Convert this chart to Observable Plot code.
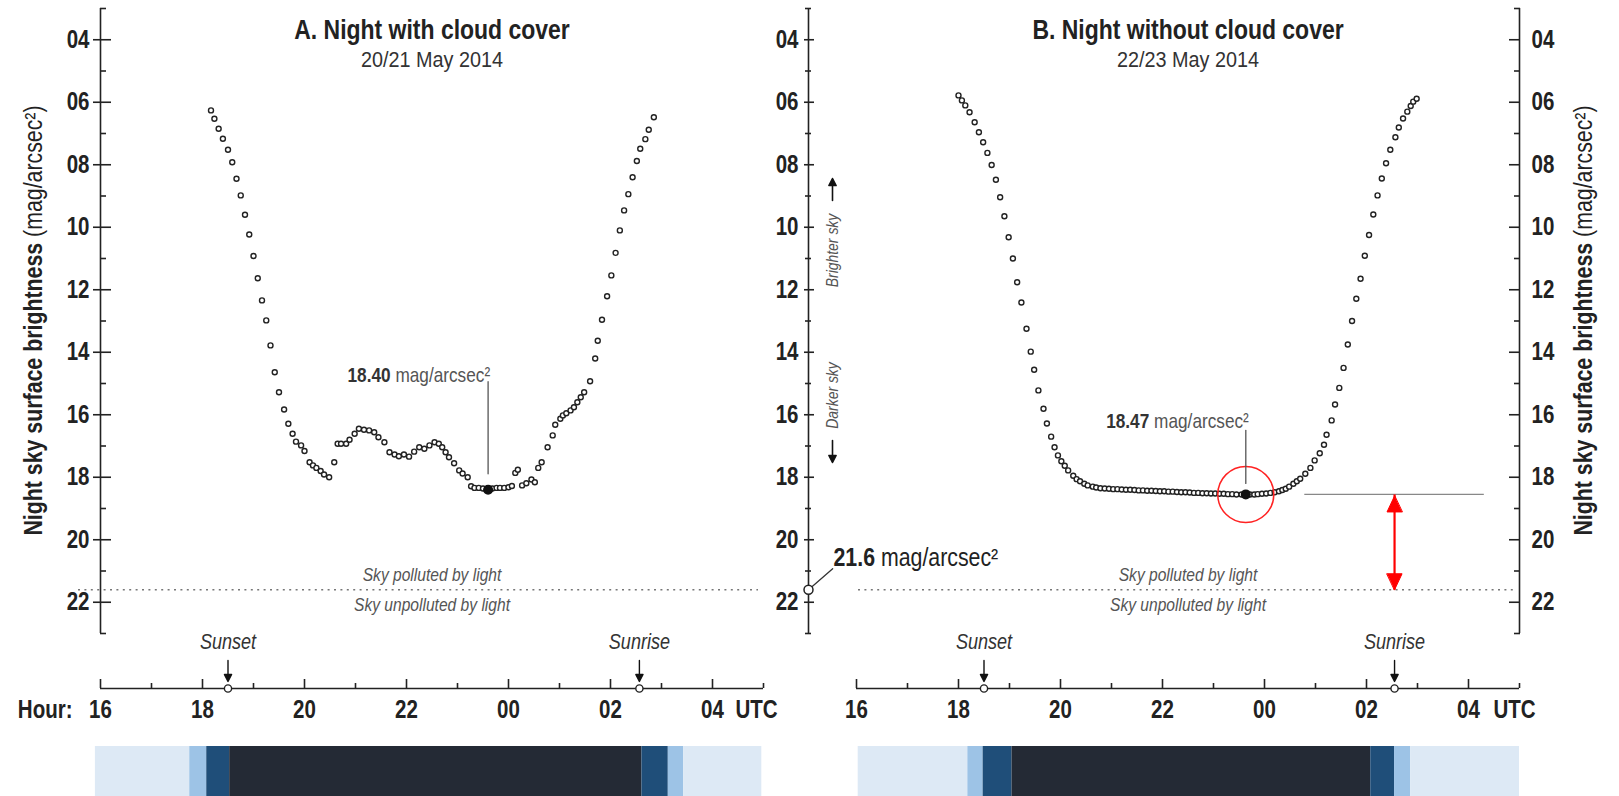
<!DOCTYPE html>
<html>
<head>
<meta charset="utf-8">
<script src="https://cdn.jsdelivr.net/npm/d3@7"></script>
<script src="https://cdn.jsdelivr.net/npm/@observablehq/plot@0.6"></script>
<style>
  html, body { margin: 0; padding: 0; background: #fff; }
  #chart { position: relative; width: 1619px; height: 796px; overflow: hidden; }
  #chart > svg { position: absolute; left: 0; }
</style>
</head>
<body>
<div id="chart"></div>
<script>
// ================= DATA =================
// Panel A: night with cloud cover (20/21 May 2014)
const timesA = ["18:10","18:14","18:19","18:24","18:30","18:35","18:40","18:45","18:50","18:55",
  "19:00","19:05","19:10","19:15","19:20","19:25","19:30","19:36","19:41","19:46",
  "19:50","19:56","20:00","20:06","20:10","20:14","20:19","20:23","20:29","20:35",
  "20:39","20:43","20:49","20:53","20:59","21:04","21:10","21:16","21:22","21:27",
  "21:34","21:40","21:46","21:51","21:57","22:03","22:09","22:15","22:21","22:27",
  "22:33","22:38","22:42","22:46","22:50","22:56","23:02","23:06","23:12","23:16",
  "23:20","23:25","23:30","23:36","23:41","23:46","23:50","23:55","00:00","00:04",
  "00:08","00:11","00:16","00:21","00:27","00:31","00:35","00:39","00:46","00:52",
  "00:55","01:01","01:04","01:08","01:13","01:17","01:21","01:25","01:29","01:36",
  "01:42","01:45","01:50","01:56","02:01","02:06","02:11","02:16","02:21","02:26",
  "02:31","02:35","02:41","02:45","02:51"];
const valuesA = [6.26,6.53,6.85,7.17,7.52,7.92,8.45,8.98,9.60,10.23,
  10.92,11.63,12.34,12.98,13.78,14.64,15.28,15.83,16.29,16.61,
  16.86,16.98,17.16,17.52,17.62,17.70,17.80,17.91,18.00,17.52,
  16.93,16.93,16.93,16.80,16.61,16.45,16.48,16.50,16.56,16.72,
  16.88,17.20,17.27,17.33,17.27,17.34,17.18,17.04,17.09,16.98,
  16.88,16.93,17.04,17.20,17.36,17.55,17.78,17.88,18.00,18.29,
  18.34,18.34,18.36,18.40,18.36,18.34,18.34,18.34,18.32,18.28,
  17.86,17.76,18.26,18.19,18.07,18.16,17.70,17.52,17.04,16.66,
  16.32,16.13,16.02,15.95,15.86,15.76,15.60,15.44,15.28,14.93,
  14.20,13.63,12.96,12.21,11.54,10.82,10.10,9.46,8.94,8.40,
  7.88,7.49,7.18,6.88,6.48];

// Panel B: night without cloud cover (22/23 May 2014)
const timesB = ["18:00","18:04","18:08","18:13","18:19","18:24","18:29","18:34","18:39","18:44",
  "18:49","18:54","18:59","19:04","19:09","19:14","19:20","19:25","19:29","19:34",
  "19:40","19:44","19:49","19:53","19:57","20:01","20:05","20:09","20:15","20:19",
  "20:23","20:28","20:32","20:38","20:42","20:47","20:52","20:57","21:02","21:07",
  "21:12","21:17","21:22","21:27","21:32","21:37","21:42","21:47","21:52","21:57",
  "22:02","22:07","22:12","22:17","22:22","22:27","22:32","22:37","22:42","22:47",
  "22:52","22:57","23:02","23:07","23:12","23:17","23:22","23:27","23:33","23:38",
  "23:43","23:48","23:52","23:57","00:02","00:07","00:12","00:17","00:21","00:25",
  "00:29","00:34","00:38","00:42","00:48","00:54","00:59","01:05","01:10","01:13",
  "01:19","01:23","01:28","01:33","01:38","01:43","01:48","01:53","01:58","02:03",
  "02:08","02:13","02:18","02:23","02:28","02:34","02:38","02:43","02:48","02:52",
  "02:55","02:59"];
const valuesB = [5.78,5.94,6.10,6.32,6.64,6.96,7.28,7.62,8.01,8.48,
  9.04,9.65,10.32,11.00,11.76,12.41,13.25,13.98,14.56,15.22,
  15.81,16.28,16.70,17.04,17.30,17.49,17.63,17.78,17.95,18.06,
  18.13,18.21,18.26,18.30,18.33,18.35,18.36,18.37,18.38,18.38,
  18.39,18.40,18.40,18.41,18.42,18.42,18.43,18.43,18.44,18.45,
  18.45,18.46,18.46,18.47,18.48,18.48,18.49,18.50,18.50,18.51,
  18.51,18.52,18.52,18.53,18.53,18.54,18.54,18.55,18.55,18.55,
  18.55,18.55,18.54,18.53,18.52,18.50,18.48,18.45,18.41,18.37,
  18.30,18.21,18.13,18.05,17.89,17.70,17.46,17.23,16.96,16.64,
  16.18,15.67,15.14,14.50,13.75,13.00,12.29,11.65,10.91,10.25,
  9.59,8.98,8.44,7.95,7.52,7.12,6.81,6.52,6.30,6.12,
  5.98,5.89];

const sunNames = ["Sunset", "Sunrise"];
const sunTimesA = ["18:30", "02:34"];
const sunTimesB = ["18:30", "02:33"];

const bandLevels = ["light", "dusk", "dark", "night", "dark", "dusk", "light"];
const bandEdgesA = ["15:54", "17:45", "18:05", "18:32", "02:37", "03:08", "03:26", "04:58"];
const bandEdgesB = ["16:02", "18:11", "18:29", "19:03", "02:05", "02:33", "02:52", "05:00"];
const bandColorDomain = ["light", "dusk", "dark", "night"];
const bandColors = ["#dde9f5", "#9dc3e6", "#1f4e79", "#242a35"];

const xTickHours = [16, 18, 20, 22, 24, 26, 28];
const xTickLabels = ["16", "18", "20", "22", "00", "02", "04"];
const xMinorHours = [17, 19, 21, 23, 25, 27, 29];
const yTicks = [4, 6, 8, 10, 12, 14, 16, 18, 20, 22];
const yTickLabels = ["04", "06", "08", "10", "12", "14", "16", "18", "20", "22"];
const yMinorTicks = [3, 5, 7, 9, 11, 13, 15, 17, 19, 21, 23];

const pollutionLimit = 21.6;
const pollutionLimitLabel = "21.6";
const keyTimeA = "23:36", keyLabelA = "18.40";
const keyTimeB = "23:38", keyLabelB = "18.47";

const titleA = "A. Night with cloud cover", subtitleA = "20/21 May 2014";
const titleB = "B. Night without cloud cover", subtitleB = "22/23 May 2014";
const yTitleBold = "Night sky surface brightness", yTitleUnit = "(mag/arcsec²)";
const unitLabel = "mag/arcsec²";
const skyPolluted = "Sky polluted by light", skyUnpolluted = "Sky unpolluted by light";
const brighterLabel = "Brighter sky", darkerLabel = "Darker sky";
const hourLabel = "Hour:", utcLabel = "UTC";

// ================= FONTS =================
function hasFont(name) {
  const ctx = document.createElement("canvas").getContext("2d");
  const s = "Night sky 0123456789 mag/arcsec WMmil";
  for (const base of ["monospace", "serif"]) {
    ctx.font = `40px ${base}`; const a = ctx.measureText(s).width;
    ctx.font = `40px "${name}", ${base}`; const b = ctx.measureText(s).width;
    if (Math.abs(a - b) > 0.5) return true;
  }
  return false;
}
let FONT = ["Liberation Sans Narrow", "Arial Narrow", "Nimbus Sans Narrow"].find(hasFont);
let condense = 1;
if (!FONT) { FONT = "Liberation Sans"; condense = 0.82; }
const FF = `"${FONT}", "Liberation Sans", Arial, sans-serif`;
const condenseOverride = new Map([[subtitleA, 0.9], [subtitleB, 0.9]]);
const measureCtx = document.createElement("canvas").getContext("2d");
function textWidth(s, size, weight) {
  measureCtx.font = `${weight} ${size}px ${FF}`;
  return measureCtx.measureText(s).width * condense;
}

// ================= HELPERS =================
const parseT = s => { const [h, m] = s.split(":").map(Number); let v = h + m / 60; if (v < 12) v += 24; return v; };
const series = (times, values) => times.map((t, i) => ({h: parseT(t), v: values[i]}));
const fmtX = d => xTickLabels[xTickHours.indexOf(d)];
const fmtY = d => yTickLabels[yTicks.indexOf(d)];
const sunOf = times => sunNames.map((n, i) => ({name: n, h: parseT(times[i])}));
const bandsOf = edges => bandLevels.map((lev, i) => ({level: lev, x1: parseT(edges[i]), x2: parseT(edges[i + 1])}));

const dataA = series(timesA, valuesA), dataB = series(timesB, valuesB);
const keyA = dataA.find(d => d.h === parseT(keyTimeA));
const keyB = dataB.find(d => d.h === parseT(keyTimeB));
const sunA = sunOf(sunTimesA), sunB = sunOf(sunTimesB);

const W = 1619, H = 746, BAR_H = 50;
const xDomain = [16, 29], yDomain = [3, 23], yRange = [8, 633];
const marginTop = 8, marginBottom = 58;
const xAxisOffset = (H - marginBottom) - yRange[1];
const AX = "#222";
const yTitle = `${yTitleBold} ${yTitleUnit}`;

const lineShape = {draw(ctx, l) { ctx.moveTo(0, 0); ctx.lineTo(0, -l); }};
const arrowShape = {draw(ctx, l) { const h = 7, w = 3.6; ctx.moveTo(0, 0); ctx.lineTo(0, -l + h); ctx.moveTo(-w, -l + h); ctx.lineTo(0, -l); ctx.lineTo(w, -l + h); ctx.closePath(); }};
const headShape = {draw(ctx, l) { const w = l * 0.47; ctx.moveTo(0, -l); ctx.lineTo(-w, 0); ctx.lineTo(w, 0); ctx.closePath(); }};

function pollutionMarks(insetLeft, insetRight) {
  return [
    Plot.ruleY([pollutionLimit], {y: d => d, stroke: "#777", strokeWidth: 1.6, strokeDasharray: "2,4.4", insetLeft, insetRight}),
    Plot.text([pollutionLimit], {y: d => d, text: () => skyPolluted, lineAnchor: "bottom", dy: -9, fontStyle: "italic", fontSize: 19, fill: "#555"}),
    Plot.text([pollutionLimit], {y: d => d, text: () => skyUnpolluted, lineAnchor: "top", dy: 8, fontStyle: "italic", fontSize: 19, fill: "#555"})
  ];
}
function xAxisMarks(utcDx, withHour) {
  return [
    Plot.ruleY([yDomain[1]], {y: d => d, x1: () => xDomain[0], x2: () => xDomain[1], dy: xAxisOffset, stroke: AX, strokeWidth: 1.6}),
    Plot.axisX(xTickHours, {anchor: "bottom", tickSize: 9, dy: -9, tickPadding: 12, tickFormat: fmtX, fontSize: 25, fontWeight: "bold", stroke: AX, strokeWidth: 1.6, label: null}),
    Plot.axisX(xMinorHours, {anchor: "bottom", tickSize: 5, dy: -5, fill: "none", stroke: AX, strokeWidth: 1.6, label: null}),
    Plot.text([utcLabel], {text: d => d, frameAnchor: "bottom-right", dx: utcDx, dy: 12, textAnchor: "start", lineAnchor: "top", fontSize: 25, fontWeight: "bold"}),
    withHour ? Plot.text([hourLabel], {text: d => d, frameAnchor: "bottom-left", dx: -28, dy: 12, textAnchor: "end", lineAnchor: "top", fontSize: 25, fontWeight: "bold"}) : null
  ];
}
function yAxisMarks(anchor, lineX, lineDx, major, minor) {
  return [
    Plot.ruleX([lineX], {x: d => d, y1: () => yDomain[0], y2: () => yDomain[1], dx: lineDx, stroke: AX, strokeWidth: 1.6}),
    Plot.axisY(yTicks, {anchor, tickFormat: fmtY, fontSize: 25, fontWeight: "bold", stroke: AX, strokeWidth: 1.6, label: null, ...major}),
    Plot.axisY(yMinorTicks, {anchor, fill: "none", stroke: AX, strokeWidth: 1.6, label: null, ...minor})
  ];
}
function sunMarks(sun) {
  return [
    Plot.vector(sun, {x: "h", frameAnchor: "bottom", dy: -7, length: 21, rotate: 180, anchor: "end", shape: arrowShape, stroke: "#111", fill: "#111", strokeWidth: 1.4}),
    Plot.dot(sun, {x: "h", frameAnchor: "bottom", r: 3.6, fill: "white", stroke: AX, strokeWidth: 1.4}),
    Plot.text(sun, {x: "h", text: "name", frameAnchor: "bottom", dy: -40, lineAnchor: "bottom", fontStyle: "italic", fontSize: 22, fill: "#333"})
  ];
}
function titleMarks(title, sub) {
  return [
    Plot.text([title], {text: d => d, frameAnchor: "top", dy: 30, lineAnchor: "bottom", fontSize: 28, fontWeight: "bold", fill: "#222"}),
    Plot.text([sub], {text: d => d, frameAnchor: "top", dy: 58, lineAnchor: "bottom", fontSize: 22, fill: "#333"})
  ];
}
function yTitleMark(frameAnchor, dx) {
  return Plot.text([yTitle], {text: d => d, frameAnchor, textAnchor: "middle", dx, dy: -28, rotate: -90, fontSize: 26, fill: "#222"});
}
const dotStyle = {x: "h", y: "v", r: 2.5, stroke: "#222", strokeWidth: 1.4, fill: "white"};
// value label: bold number + unit, right-aligned at the leader line
function keyMarks(key, label, gap, length, labelDx, labelDy) {
  const size = 21;
  const unitW = textWidth(` ${unitLabel}`, size, "normal");
  const common = {x: "h", y: "v", textAnchor: "end", lineAnchor: "bottom", dy: labelDy, fontSize: size};
  return [
    Plot.vector([key], {x: "h", y: "v", anchor: "start", dy: -gap, length, shape: lineShape, stroke: "#555", strokeWidth: 1.3}),
    Plot.dot([key], {x: "h", y: "v", r: 4.3, fill: "#111", stroke: "#111"}),
    Plot.text([key], {...common, text: () => unitLabel, dx: labelDx, fill: "#555"}),
    Plot.text([key], {...common, text: () => label, dx: labelDx - unitW, fontWeight: "bold", fill: "#333"})
  ];
}
const baseStyle = {fontFamily: FF, color: AX, background: "transparent", overflow: "visible"};

// ================= PANEL A =================
const plotA = Plot.plot({
  width: W, height: H, marginTop, marginBottom, marginLeft: 100, marginRight: 856,
  x: {domain: xDomain}, y: {domain: yDomain, range: yRange},
  style: baseStyle,
  marks: [
    ...pollutionMarks(-22, 5),
    ...xAxisMarks(-28, true),
    ...yAxisMarks("left", xDomain[0], 0, {tickSize: 18, dx: 11, tickPadding: 4}, {tickSize: 6, dx: 6}),
    ...sunMarks(sunA),
    ...titleMarks(titleA, subtitleA),
    yTitleMark("left", -67),
    Plot.dot(dataA, dotStyle),
    ...keyMarks(keyA, keyLabelA, 16, 92, 2, -108)
  ]
});

// ================= PANEL B =================
const leftAxisDx = -48;
const arrowH = sunB[1].h;
const limSize = 26;
const limNumW = textWidth(`${pollutionLimitLabel} `, limSize, "bold");
const plotB = Plot.plot({
  width: W, height: H, marginTop, marginBottom, marginLeft: 856, marginRight: 100,
  x: {domain: xDomain}, y: {domain: yDomain, range: yRange},
  style: baseStyle,
  marks: [
    ...pollutionMarks(2, 2),
    ...xAxisMarks(-26, false),
    ...yAxisMarks("left", xDomain[0], leftAxisDx, {tickSize: 10, dx: leftAxisDx + 6, tickPadding: 6}, {tickSize: 6, dx: leftAxisDx + 3}),
    ...yAxisMarks("right", xDomain[1], 0, {tickSize: 11, dx: -11, tickPadding: 12}, {tickSize: 6, dx: -6}),
    ...sunMarks(sunB),
    ...titleMarks(titleB, subtitleB),
    yTitleMark("right", 64),
    // brighter / darker sky hints
    Plot.text([brighterLabel], {text: d => d, frameAnchor: "left", textAnchor: "middle", dx: -24, dy: -98, rotate: -90, fontStyle: "italic", fontSize: 17, fill: "#555"}),
    Plot.vector([brighterLabel], {frameAnchor: "left", dx: -24, dy: -170, anchor: "end", length: 22, shape: arrowShape, stroke: "#111", fill: "#111", strokeWidth: 1.6}),
    Plot.text([darkerLabel], {text: d => d, frameAnchor: "left", textAnchor: "middle", dx: -24, dy: 47, rotate: -90, fontStyle: "italic", fontSize: 17, fill: "#555"}),
    Plot.vector([darkerLabel], {frameAnchor: "left", dx: -24, dy: 114, anchor: "end", rotate: 180, length: 22, shape: arrowShape, stroke: "#111", fill: "#111", strokeWidth: 1.6}),
    // 21.6 threshold marker on the axis
    Plot.vector([pollutionLimit], {x: () => xDomain[0], y: d => d, dx: leftAxisDx, anchor: "start", rotate: 49, length: 32, shape: lineShape, stroke: "#333", strokeWidth: 1.3}),
    Plot.dot([pollutionLimit], {x: () => xDomain[0], y: d => d, dx: leftAxisDx, r: 4.5, fill: "white", stroke: "#222", strokeWidth: 1.5}),
    Plot.text([pollutionLimit], {x: () => xDomain[0], y: d => d, text: () => pollutionLimitLabel, dx: -23, dy: -24, textAnchor: "start", lineAnchor: "bottom", fontSize: limSize, fontWeight: "bold", fill: "#222"}),
    Plot.text([pollutionLimit], {x: () => xDomain[0], y: d => d, text: () => unitLabel, dx: -23 + limNumW, dy: -24, textAnchor: "start", lineAnchor: "bottom", fontSize: limSize, fill: "#222"}),
    // difference to the unpolluted limit
    Plot.ruleY([keyB], {y: "v", x1: () => arrowH - 1.76, x2: () => arrowH + 1.76, stroke: "#888", strokeWidth: 1.2}),
    Plot.link([keyB], {x1: () => arrowH, x2: () => arrowH, y1: "v", y2: () => pollutionLimit, stroke: "#f00", strokeWidth: 2.2}),
    Plot.vector([keyB], {x: () => arrowH, y: "v", dy: 1.5, anchor: "end", length: 16, shape: headShape, fill: "#f00", stroke: "#f00", strokeWidth: 1}),
    Plot.vector([pollutionLimit], {x: () => arrowH, y: d => d, anchor: "end", rotate: 180, length: 16, shape: headShape, fill: "#f00", stroke: "#f00", strokeWidth: 1}),
    Plot.dot(dataB, dotStyle),
    Plot.dot([keyB], {x: "h", y: "v", r: 28, stroke: "#f22", strokeWidth: 1.5, fill: "none"}),
    ...keyMarks(keyB, keyLabelB, 11, 53, 3, -66)
  ]
});

// ================= NIGHT BARS =================
function barPlot(bands, marginLeft, marginRight) {
  return Plot.plot({
    width: W, height: BAR_H, marginTop: 0, marginBottom: 0, marginLeft, marginRight,
    x: {domain: xDomain, axis: null},
    color: {domain: bandColorDomain, range: bandColors},
    style: {background: "transparent", overflow: "visible"},
    marks: [Plot.rect(bands, {x1: "x1", x2: "x2", fill: "level"})]
  });
}
const barsA = barPlot(bandsOf(bandEdgesA), 100, 856);
const barsB = barPlot(bandsOf(bandEdgesB), 856, 100);

// ================= ASSEMBLE =================
const chart = document.getElementById("chart");
[[plotA, 0], [plotB, 0], [barsA, H], [barsB, H]].forEach(([svg, top]) => { svg.style.top = top + "px"; chart.appendChild(svg); });

const boldPrefixes = [yTitleBold];
const NS = "http://www.w3.org/2000/svg";
function richify(svg) {
  svg.querySelectorAll("text").forEach(t => {
    if (t.querySelector("tspan")) return;
    const s = t.textContent;
    for (const p of boldPrefixes) {
      if (s.startsWith(p) && s.length > p.length) {
        t.textContent = "";
        const a = document.createElementNS(NS, "tspan");
        a.setAttribute("font-weight", "bold"); a.setAttribute("fill", "#222"); a.textContent = p;
        const b = document.createElementNS(NS, "tspan");
        b.setAttribute("font-weight", "normal"); b.textContent = s.slice(p.length);
        t.append(a, b);
        break;
      }
    }
  });
}
function condenseTexts(svg, k0) {
  if (k0 === 1) return;
  svg.querySelectorAll("text").forEach(t => {
    const k = condenseOverride.get(t.textContent) ?? k0;
    const spans = t.querySelectorAll("tspan");
    const targets = spans.length ? Array.from(spans) : [t];
    const lens = targets.map(e => e.getComputedTextLength());
    targets.forEach((e, i) => {
      if (lens[i] > 0) { e.setAttribute("textLength", (lens[i] * k).toFixed(1)); e.setAttribute("lengthAdjust", "spacingAndGlyphs"); }
    });
  });
}
[plotA, plotB].forEach(svg => { richify(svg); condenseTexts(svg, condense); });
</script>
</body>
</html>
